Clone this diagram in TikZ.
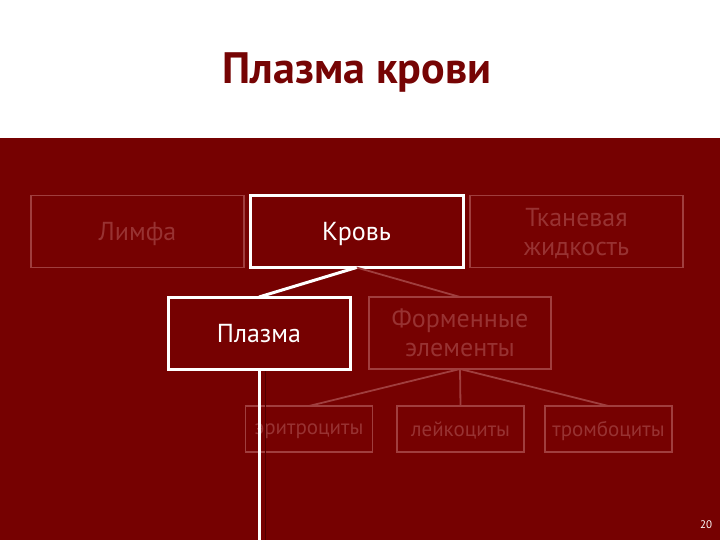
\documentclass[tikz,border=0pt]{standalone}
\usepackage{fontspec}
\setmainfont{PT Sans}
\definecolor{bgred}{RGB}{118,1,1}
\definecolor{titlered}{RGB}{118,4,4}
\definecolor{faint}{RGB}{160,62,62}
\definecolor{fainttext}{RGB}{152,50,50}
\definecolor{shadowred}{RGB}{80,0,0}
\begin{document}
\begin{tikzpicture}[x=1bp,y=-1bp,
  anybox/.style={rectangle, inner sep=0pt, outer sep=0pt, align=center, text depth=0pt,
    font=\fontsize{26bp}{29bp}\selectfont},
  faintbox/.style={anybox, draw=faint, line width=1.6bp, text=fainttext},
  hibox/.style={anybox, draw=white, line width=3bp, text=white},
  bigbox/.style={minimum width=213bp, minimum height=72bp},
  midbox/.style={minimum width=182bp, minimum height=72bp},
  smallbox/.style={minimum width=127bp, minimum height=46bp, font=\fontsize{21bp}{24bp}\selectfont},
  faintline/.style={draw=faint, line width=1.8bp},
  whiteline/.style={draw=white, line width=3bp}]
\useasboundingbox (0,0) rectangle (720,540);
\fill[white] (0,0) rectangle (720,138);
\fill[bgred] (0,138) rectangle (720,540);
\node[font=\fontsize{44bp}{50bp}\selectfont\bfseries, text=titlered] (title) at (357,73) {Плазма крови};
% top row
\node[faintbox, bigbox] (lymph) at (137.5,231.5) {Лимфа};
\node[hibox, bigbox] (blood) at (356.5,231.5) {Кровь};
\node[faintbox, bigbox] (tissue) at (576.5,231.5) {Тканевая\\жидкость};
% middle row
\node[hibox, midbox] (plasma) at (259,333) {Плазма};
\node[faintbox, midbox] (formed) at (460,333) {Форменные\\элементы};
% bottom row
\node[faintbox, smallbox] (ery) at (309,429) {эритроциты};
\node[faintbox, smallbox] (leu) at (460.5,429) {лейкоциты};
\node[faintbox, smallbox] (thr) at (608.5,429) {тромбоциты};
\coordinate (bottomend) at (259,541);
\coordinate (shadowtop) at (265,371);
\coordinate (shadowend) at (265,541);
% connectors
\draw[faintline] (blood.south) -- (formed.north);
\draw[faintline] (formed.south) -- (ery.north);
\draw[faintline] (formed.south) -- (leu.north);
\draw[faintline] (formed.south) -- (thr.north);
\draw[shadowred, line width=1bp] (shadowtop) -- (shadowend);
\draw[whiteline] (plasma.south) -- (bottomend);
\draw[whiteline] (blood.south) -- (plasma.north);
\node[font=\fontsize{11bp}{13bp}\selectfont, text=white] (pagenum) at (706,525) {20};
\end{tikzpicture}
\end{document}
